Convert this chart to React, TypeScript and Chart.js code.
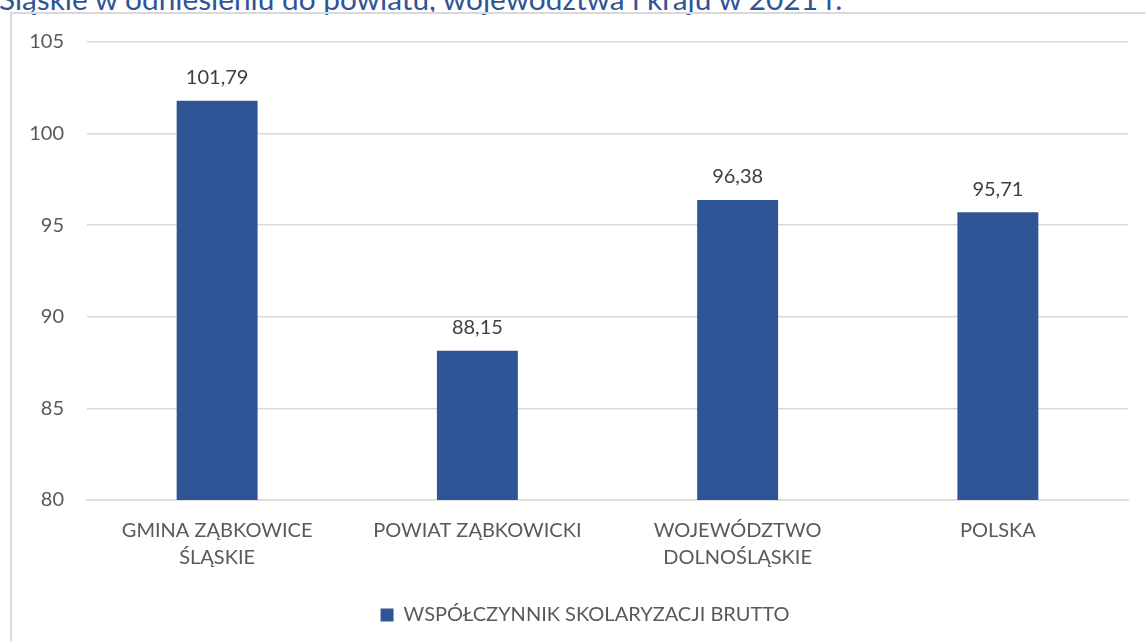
import React, { useEffect, useRef } from "react";
import { Chart, registerables } from "chart.js";

Chart.register(...registerables);

const categories: (string | string[])[] = [
  ["GMINA ZĄBKOWICE", "ŚLĄSKIE"],
  "POWIAT ZĄBKOWICKI",
  ["WOJEWÓDZTWO", "DOLNOŚLĄSKIE"],
  "POLSKA",
];
const seriesName = "WSPÓŁCZYNNIK SKOLARYZACJI BRUTTO";
const values = [101.79, 88.15, 96.38, 95.71];
const yMin = 80;
const yMax = 105;
const yStep = 5;
const titleText = "Śląskie w odniesieniu do powiatu, województwa i kraju w 2021 r.";

const FONT = "Lato, 'Open Sans', sans-serif";
const BAR = "#2F5597";

const valueLabels = {
  id: "valueLabels",
  afterDatasetsDraw(chart: any) {
    const ctx = chart.ctx;
    const meta = chart.getDatasetMeta(0);
    ctx.save();
    ctx.font = `20px ${FONT}`;
    ctx.fillStyle = "#404040";
    ctx.textAlign = "center";
    ctx.textBaseline = "bottom";
    meta.data.forEach((el: any, i: number) => {
      const v = values[i];
      ctx.fillText(v.toFixed(2).replace(".", ","), el.x, el.y - 13);
    });
    ctx.restore();
  },
};

const legendShift = {
  id: "legendShift",
  afterLayout(chart: any) {
    if (chart.legend) {
      chart.legend.left += 21;
      chart.legend.right += 21;
    }
  },
};

export default function App() {
  const ref = useRef<HTMLCanvasElement | null>(null);
  useEffect(() => {
    document.body.style.margin = "0";
    const chart = new Chart(ref.current as HTMLCanvasElement, {
      type: "bar",
      data: {
        labels: categories,
        datasets: [
          {
            label: seriesName,
            data: values,
            backgroundColor: BAR,
            borderWidth: 0,
            categoryPercentage: 1,
            barPercentage: 0.311,
          },
        ],
      },
      options: {
        animation: false,
        responsive: false,
        maintainAspectRatio: false,
        layout: { padding: { top: 42, right: 17, bottom: 6, left: 0 } },
        plugins: {
          legend: {
            position: "bottom",
            labels: {
              boxWidth: 13,
              boxHeight: 13,
              color: "#595959",
              font: { family: FONT, size: 20 },
              padding: 9,
            },
          },
          tooltip: { enabled: false },
          title: { display: false },
        },
        scales: {
          x: {
            grid: { display: false, drawTicks: false },
            border: { display: true, color: "#d9d9d9", width: 1.5 },
            ticks: {
              color: "#595959",
              font: { family: FONT, size: 20, lineHeight: 1.35 },
              padding: 17,
              maxRotation: 0,
              autoSkip: false,
            },
            afterFit: (s: any) => {
              s.height = 96;
            },
          },
          y: {
            min: yMin,
            max: yMax,
            grid: { color: "#d9d9d9", lineWidth: 1.5, drawTicks: false },
            border: { display: false },
            ticks: {
              stepSize: yStep,
              color: "#595959",
              font: { family: FONT, size: 20 },
              padding: 23,
            },
            afterFit: (s: any) => {
              s.width = 87;
            },
          },
        },
      },
      plugins: [valueLabels, legendShift],
    });
    return () => chart.destroy();
  }, []);

  return (
    <div style={{ position: "relative", width: 1145, height: 641, overflow: "hidden", background: "#fff" }}>
      <div
        style={{
          position: "absolute",
          left: -1,
          top: -19,
          fontFamily: FONT,
          fontSize: 29.8,
          color: BAR,
          whiteSpace: "nowrap",
        }}
      >
        {titleText}
      </div>
      <div
        style={{
          position: "absolute",
          left: 10,
          top: 12,
          width: 1200,
          height: 700,
          border: "2px solid #d9d9d9",
          boxSizing: "border-box",
        }}
      />
      <canvas ref={ref} width={1145} height={641} style={{ position: "absolute", left: 0, top: 0 }} />
    </div>
  );
}
